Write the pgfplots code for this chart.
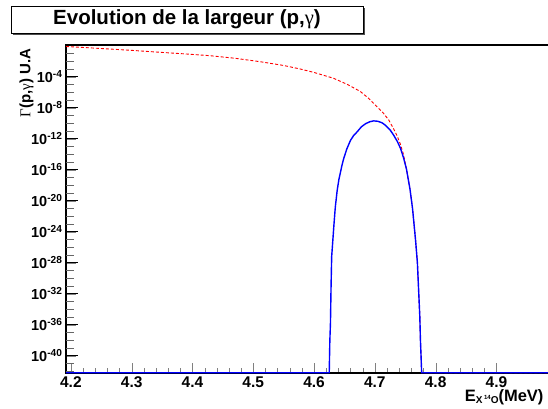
\documentclass[border=0pt]{standalone}
\usepackage{fontspec}
\setmainfont{Liberation Sans}
\newfontfamily\greek{Liberation Serif}
\usepackage{pgfplots}
\pgfplotsset{compat=1.18}

\begin{document}
\begin{tikzpicture}
\useasboundingbox (0pt,0pt) rectangle (548pt,408pt);
% title box
\fill[black!70] (13pt,373pt) rectangle (365pt,400pt);
\draw[fill=white, line width=0.8pt] (11pt,375pt) rectangle (363pt,402pt);
\node[font=\fontsize{20.5}{24}\selectfont\bfseries] at (187pt,388.5pt)
  {Evolution de la largeur (p,{\mdseries\greek γ})};

% the right edge of the frame falls outside the page, as in the reference
\begin{axis}[
    at={(66pt,35pt)}, anchor=south west,
    scale only axis, width=490pt, height=328pt,
    xmin=4.192, xmax=4.998,
    ymode=log, log basis y=10, ymin=6e-43, ymax=1.23,
    axis line style={line width=1.2pt},
    tick align=inside,
    xtick pos=left, ytick pos=left,
    major tick length=10pt, minor tick length=5pt,
    xtick={4.2,4.3,4.4,4.5,4.6,4.7,4.8,4.9},
    minor x tick num=4,
    xticklabel style={font=\fontsize{15.5}{16}\selectfont\bfseries,
      /pgf/number format/assume math mode=true,
      /pgf/number format/fixed, /pgf/number format/precision=1,
      /pgf/number format/fixed zerofill},
    ytick={1e-40,1e-36,1e-32,1e-28,1e-24,1e-20,1e-16,1e-12,1e-8,1e-4},
    yticklabels={10\textsuperscript{-40},10\textsuperscript{-36},10\textsuperscript{-32},
      10\textsuperscript{-28},10\textsuperscript{-24},10\textsuperscript{-20},
      10\textsuperscript{-16},10\textsuperscript{-12},10\textsuperscript{-8},
      10\textsuperscript{-4}},
    yticklabel style={font=\fontsize{14.5}{15}\selectfont\bfseries},
  ]
  % largeur (p,gamma) sans fenetre
  \addplot[red, line width=0.9pt, dash pattern=on 3pt off 2pt] coordinates {
    (4.192,0.794) (4.230,0.537) (4.264,0.372) (4.300,0.251) (4.347,0.141)
    (4.390,8.51e-2) (4.429,5.13e-2) (4.470,2.40e-2) (4.511,8.71e-3)
    (4.550,2.82e-3) (4.577,1.0e-3) (4.600,3.55e-4) (4.632,6.31e-5)
    (4.655,1.0e-5) (4.676,1.26e-6) (4.690,1.58e-7) (4.704,1.26e-8)
    (4.714,2.0e-9) (4.723,2.51e-10) (4.730,2.51e-11) (4.737,2.0e-12)
    (4.742,2.0e-13) (4.747,1.0e-14) (4.752,1.26e-16) (4.758,2.51e-19)
    (4.762,1e-21) (4.767,7.94e-26) (4.770,1e-28) (4.772,3.16e-32)
    (4.774,1e-35) (4.775,1e-38) (4.776,1e-40) (4.777,6.5e-43) (4.998,6.5e-43)
  };
  % largeur avec fenetre
  \addplot[blue, line width=1.4pt, line join=round] coordinates {
    (4.192,6.5e-43) (4.625,6.5e-43) (4.6255,1e-40) (4.626,1e-38)
    (4.627,1.58e-36) (4.628,1e-31) (4.629,6.31e-28) (4.631,1e-25)
    (4.633,1.58e-23) (4.635,1.58e-21) (4.638,2.0e-19) (4.641,6.31e-18)
    (4.643,3.16e-17) (4.646,3.98e-16) (4.649,3.16e-15) (4.654,5.01e-14)
    (4.660,6.31e-13) (4.665,2.51e-12) (4.671,7.94e-12) (4.678,3.55e-11)
    (4.685,8.91e-11) (4.692,1.58e-10) (4.698,2.0e-10) (4.705,1.78e-10)
    (4.712,1.12e-10) (4.718,5.01e-11) (4.725,1.41e-11) (4.731,2.82e-12)
    (4.737,4.47e-13) (4.742,6.31e-14) (4.747,3.98e-15) (4.752,1.26e-16)
    (4.758,2.51e-19) (4.762,1e-21) (4.767,7.94e-26) (4.770,1e-28)
    (4.772,3.16e-32) (4.774,1e-35) (4.775,1e-38) (4.776,1e-40)
    (4.777,6.5e-43) (4.998,6.5e-43)
  };
  % y ticks: one per decade, longer at the labelled ones
  \pgfplotsinvokeforeach{4,8,12,16,20,24,28,32,36,40}{
    \draw[line width=0.8pt] (axis cs:4.192,1e-#1) -- ++(12pt,0pt);
  }
  \pgfplotsinvokeforeach{1,2,3,5,6,7,9,10,11,13,14,15,17,18,19,21,22,23,
      25,26,27,29,30,31,33,34,35,37,38,39,41,42}{
    \draw[line width=0.8pt, black!60] (axis cs:4.192,1e-#1) -- ++(8pt,0pt);
  }
\end{axis}

\node[rotate=90, anchor=east, font=\fontsize{15}{16}\selectfont\bfseries] at (26.5pt,363pt)
  {{\mdseries\greek Γ}(p,{\mdseries\greek γ}) U.A};
\node[anchor=base east, font=\fontsize{16.5}{17}\selectfont\bfseries] at (547pt,6.3pt)
  {E\raisebox{-2pt}{\fontsize{10}{10}\selectfont X\,\raisebox{4pt}{\fontsize{6}{6}\selectfont 14}O}(MeV)};
\end{tikzpicture}
\end{document}
